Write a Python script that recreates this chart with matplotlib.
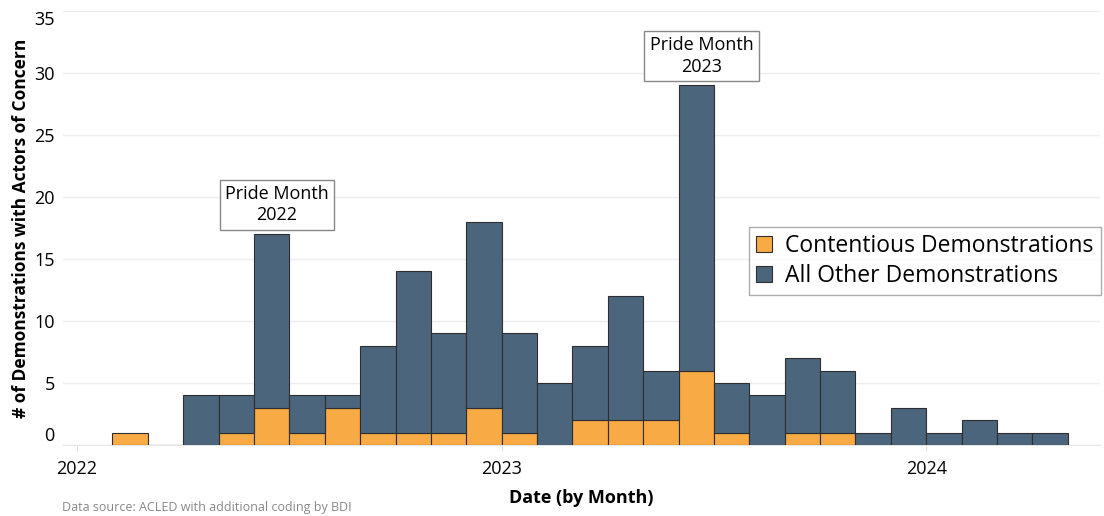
import numpy as np
import matplotlib
matplotlib.use("Agg")
import matplotlib.pyplot as plt

plt.rcParams['font.family'] = ['Open Sans', 'DejaVu Sans']

# months since Jan 2022 (0 = Jan 2022)
months = list(range(1, 28))
# Feb 2022 .. Apr 2024
contentious = [1, 0, 0, 1, 3, 1, 3, 1, 1, 1, 3,
               1, 0, 2, 2, 2, 6, 1, 0, 1, 1, 0, 0,
               0, 0, 0, 0]
totals = [1, 0, 4, 4, 17, 4, 4, 8, 14, 9, 18,
          9, 5, 8, 12, 6, 29, 5, 4, 7, 6, 1, 3,
          1, 2, 1, 1]
other = [t - c for t, c in zip(totals, contentious)]

year_ticks = [0, 12, 24]
year_labels = ["2022", "2023", "2024"]
y_ticks = [0, 5, 10, 15, 20, 25, 30, 35]

annotations = [(5, 17, "Pride Month\n2022"), (17, 29, "Pride Month\n2023")]

orange = "#F8AA45"
blue = "#4B667C"
edge = "#2E2E2E"

fig = plt.figure(figsize=(11.04, 5.16), dpi=100)
ax = fig.add_axes([0.057, 0.1376, 0.939, 0.841])

x = np.array(months)
ax.bar(x, contentious, width=1, align='edge', color=orange,
       edgecolor=edge, linewidth=0.8, label="Contentious Demonstrations", zorder=3)
mask = np.array(other) > 0
ax.bar(x[mask], np.array(other)[mask], width=1, align='edge',
       bottom=np.array(contentious)[mask], color=blue, edgecolor=edge,
       linewidth=0.8, label="All Other Demonstrations", zorder=3)

ax.set_xlim(-0.4, 28.9)
ax.set_ylim(0, 35)
ax.set_yticks(y_ticks)
ax.set_yticklabels([str(v) for v in y_ticks], fontsize=13)
ax.set_xticks(year_ticks)
ax.set_xticklabels(year_labels, fontsize=13)
ax.tick_params(axis='y', length=0, pad=6)
ax.tick_params(axis='x', length=4, color="#DDDDDD", pad=7)

labs = ax.get_yticklabels()
labs[0].set_va('bottom')
labs[-1].set_va('top')

ax.grid(axis='y', color="#EEEEEE", linewidth=1, zorder=0)
for s in ["top", "right", "left"]:
    ax.spines[s].set_visible(False)
ax.spines["bottom"].set_color("#E6E6E6")

ax.set_ylabel("# of Demonstrations with Actors of Concern", fontsize=12.5,
              fontweight='bold', labelpad=3)
ax.set_xlabel("Date (by Month)", fontsize=13, fontweight='bold', labelpad=8)

for m, top, txt in annotations:
    ax.annotate(txt, xy=(m + 0.65, top), xytext=(0, 7), textcoords='offset points',
                ha='center', va='bottom', fontsize=13, linespacing=1.25,
                bbox=dict(boxstyle='square,pad=0.3', fc='white', ec='#888888', lw=1),
                zorder=5)

leg = ax.legend(loc='upper left', bbox_to_anchor=(0.6615, 0.502), fontsize=16.5,
                frameon=True, fancybox=False, edgecolor='#999999', handlelength=0.7,
                handleheight=0.7, handletextpad=0.6, borderpad=0.3, labelspacing=0.25,
                borderaxespad=0)
leg.get_frame().set_linewidth(1)

fig.text(0.056, 0.003, "Data source: ACLED with additional coding by BDI",
         fontsize=9, color="#888888", va='bottom', ha='left')

fig.savefig("out.png", dpi=100)
